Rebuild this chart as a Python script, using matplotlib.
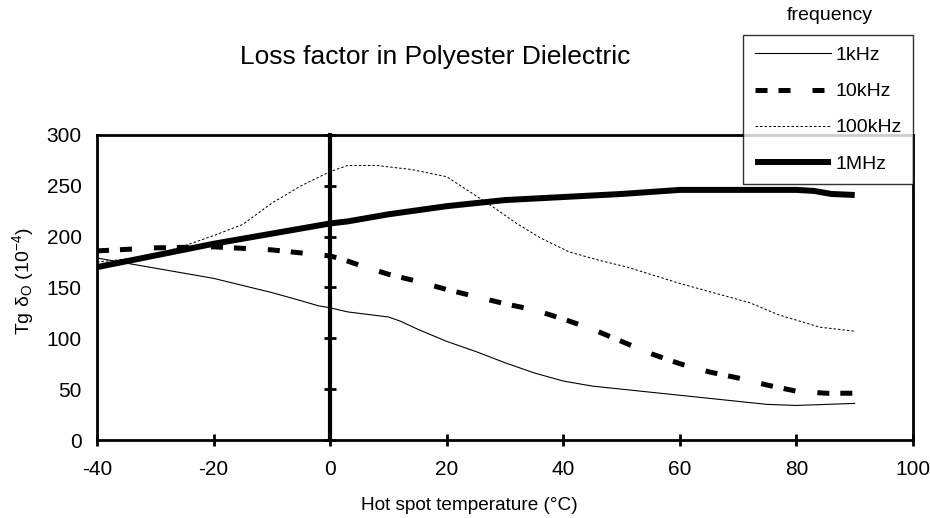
import matplotlib
matplotlib.use("Agg")
import matplotlib.pyplot as plt

plt.rcParams['font.family'] = ['Liberation Sans', 'DejaVu Sans']
plt.rcParams['mathtext.fontset'] = 'custom'
plt.rcParams['mathtext.rm'] = 'Liberation Sans'
plt.rcParams['mathtext.it'] = 'Liberation Sans:italic'
plt.rcParams['axes.unicode_minus'] = False

# ---- data ----
t_1k = [-40, -30, -20, -10, -5, -2, 0, 3, 10, 12, 15, 20, 25, 30, 35, 40, 45, 50, 60, 70, 75, 80, 85, 90]
v_1k = [179, 169, 159, 145, 137, 132, 130, 126, 121, 117, 109, 97, 87, 76, 66, 58, 53, 50, 44, 38, 35, 34, 35, 36]

t_10k = [-40, -30, -20, -10, 0, 2, 5, 10, 15, 20, 25, 30, 35, 40, 45, 50, 55, 60, 65, 70, 75, 80, 85, 90]
v_10k = [186, 189, 190, 187, 181, 178, 172, 163, 156, 148, 141, 134, 128, 119, 109, 97, 85, 75, 67, 61, 54, 48, 46, 46]

t_100k = [-40, -35, -30, -25, -20, -15, -10, -5, 0, 3, 8, 14, 20, 24, 28, 32, 36, 41, 46, 51, 60, 72, 77, 84, 90]
v_100k = [175, 178, 182, 191, 201, 212, 233, 250, 264, 270, 270, 266, 259, 244, 229, 213, 199, 185, 177, 170, 154, 135, 123, 111, 107]

t_1M = [-40, -20, 0, 3, 10, 20, 30, 40, 50, 60, 70, 80, 83, 86, 90]
v_1M = [170, 193, 213, 215, 222, 230, 236, 239, 242, 246, 246, 246, 245, 242, 241]

labels = ['1kHz', '10kHz', '100kHz', '1MHz']
x_ticks = [-40, -20, 0, 20, 40, 60, 80, 100]
y_ticks = [0, 50, 100, 150, 200, 250, 300]

W, H = 930, 518
fig = plt.figure(figsize=(W / 100, H / 100), dpi=100)
ax = fig.add_axes([97 / W, 1 - 440 / H, (913 - 97) / W, (440 - 135) / H])

px = 72 / 100  # points per pixel
l1, = ax.plot(t_1k, v_1k, color='black', lw=1.1 * px)
l2, = ax.plot(t_10k, v_10k, color='black', lw=5 * px, dash_capstyle='butt')
l2.set_dashes([12 / 5, 11 / 5, 12 / 5, 22 / 5])
l3, = ax.plot(t_100k, v_100k, color='black', lw=1.0 * px)
l3.set_dashes([2.5, 2.0])
l4, = ax.plot(t_1M, v_1M, color='black', lw=6 * px, solid_capstyle='butt')

ax.set_xlim(-40, 100)
ax.set_ylim(0, 300)
ax.set_xticks(x_ticks)
ax.set_yticks(y_ticks)
ax.tick_params(axis='y', length=0, labelsize=15, pad=11)
ax.tick_params(axis='x', direction='inout', length=9, width=2, labelsize=15, pad=10)
for s in ax.spines.values():
    s.set_linewidth(2)

# central value axis crossing at x = 0
sec = ax.secondary_yaxis(40 / 140)
sec.set_yticks(y_ticks)
sec.tick_params(direction='inout', length=9, width=2, labelleft=False, labelright=False)
sec.spines['left'].set_linewidth(3)

fig.text(435 / W, 1 - 57 / H, 'Loss factor in Polyester Dielectric', ha='center', va='center', fontsize=19)
fig.text(469 / W, 1 - 505 / H, 'Hot spot temperature (°C)', ha='center', va='center', fontsize=13.7)
fig.text(23 / W, 1 - 281 / H, 'Tg δ$_{\\rm O}$ (10$^{-4}$)', ha='center', va='center', rotation=90, fontsize=14)

leg = fig.legend([l1, l2, l3, l4], labels, loc='upper left',
                 bbox_to_anchor=(743 / W, 1 - 35 / H), bbox_transform=fig.transFigure,
                 fontsize=14, frameon=True, fancybox=False, edgecolor='black',
                 handlelength=3.95, handletextpad=0.2, labelspacing=0.95,
                 borderpad=0.6, borderaxespad=0)
leg.get_frame().set_linewidth(1.0)
fig.text(830 / W, 1 - 15 / H, 'frequency', ha='center', va='center', fontsize=14)

fig.savefig('out.png', dpi=100)
